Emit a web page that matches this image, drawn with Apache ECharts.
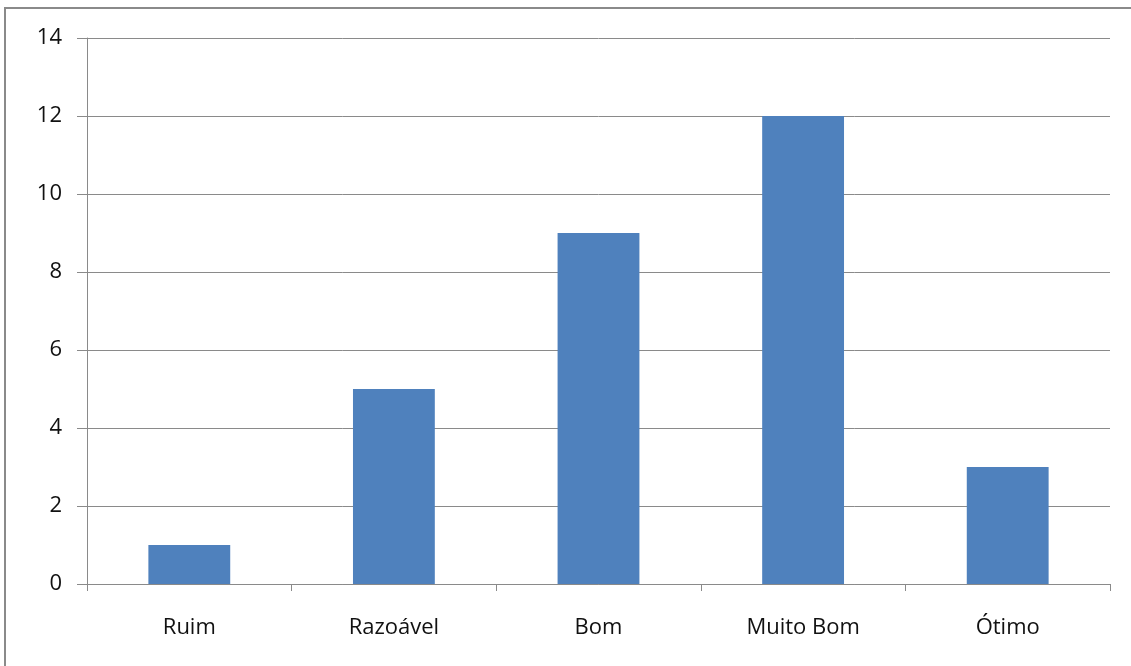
<!DOCTYPE html>
<html>
<head>
<meta charset="utf-8">
<script src="https://cdn.jsdelivr.net/npm/echarts@6/dist/echarts.min.js"></script>
<style>
  html, body { margin: 0; padding: 0; background: #fff; }
  #chart { width: 1131px; height: 666px; }
</style>
</head>
<body>
<div id="chart"></div>
<script>
// dados do gráfico
const categories = ['Ruim', 'Razoável', 'Bom', 'Muito Bom', 'Ótimo'];
const values = [1, 5, 9, 12, 3];
const yTicks = [0, 2, 4, 6, 8, 10, 12, 14];

const chart = echarts.init(document.getElementById('chart'));

const font = 'Open Sans, Liberation Sans, sans-serif';

chart.setOption({
  animation: false,
  graphic: [{
    type: 'rect',
    shape: { x: 5, y: 8, width: 1200, height: 700 },
    style: { fill: 'none', stroke: '#8a8a8a', lineWidth: 2 },
    z: 0
  }],
  grid: { left: 87, right: 21, top: 38, bottom: 82 },
  xAxis: {
    type: 'category',
    data: categories,
    axisLine: { lineStyle: { color: '#8a8a8a', width: 1 } },
    axisTick: { show: true, length: 7, inside: false, lineStyle: { color: '#8a8a8a' } },
    axisLabel: { color: '#111', fontSize: 22, fontFamily: font, margin: 33 }
  },
  yAxis: {
    type: 'value',
    min: yTicks[0],
    max: yTicks[yTicks.length - 1],
    interval: 2,
    axisLine: { show: true, lineStyle: { color: '#8a8a8a', width: 1 } },
    axisTick: { show: true, length: 10, lineStyle: { color: '#8a8a8a' } },
    axisLabel: { color: '#111', fontSize: 22, fontFamily: font, margin: 25 },
    splitLine: { show: true, lineStyle: { color: '#8a8a8a', width: 1 } }
  },
  series: [{
    type: 'bar',
    data: values,
    barCategoryGap: '60%',
    itemStyle: { color: '#4f81bd' }
  }]
});
</script>
</body>
</html>
